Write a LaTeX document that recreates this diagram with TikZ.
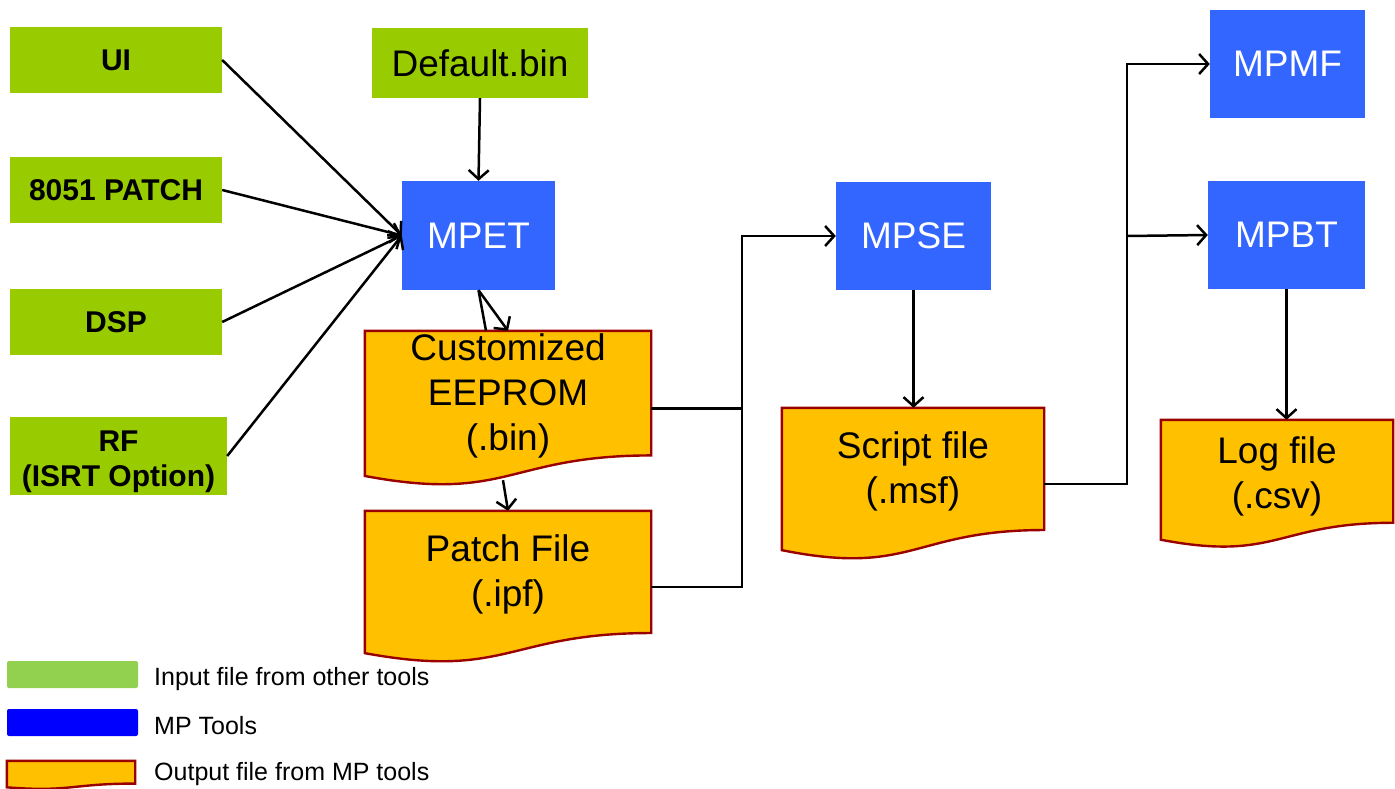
\documentclass[tikz,border=0pt]{standalone}
\usepackage{fontspec}
\setmainfont{Liberation Sans}
\usepackage{tikz}
\usetikzlibrary{arrows.meta,calc,positioning,backgrounds}
\usepackage{xcolor}
\definecolor{ingreen}{HTML}{99CC00}
\definecolor{lggreen}{HTML}{92D050}
\definecolor{toolblue}{HTML}{3366FF}
\definecolor{lgblue}{HTML}{0000FF}
\definecolor{outorange}{HTML}{FFC000}
\definecolor{outred}{HTML}{990000}

\begin{document}
\begin{tikzpicture}[x=1pt,y=-1pt,
  inbox/.style={fill=ingreen,inner sep=0pt,align=center,font=\fontsize{30}{35}\selectfont\bfseries},
  toolbox/.style={fill=toolblue,inner sep=0pt,text=white,font=\fontsize{37}{45}\selectfont},
  docfile/.style={inner sep=0pt,align=center,text depth=32pt,font=\fontsize{37}{45}\selectfont},
  docline/.style={draw=outred,fill=outorange,line width=2.4pt,line join=miter},
  lgtext/.style={anchor=west,inner sep=0pt,font=\fontsize{25}{30}\selectfont},
  arr/.style={line width=2.5pt,-{Straight Barb[length=9pt,width=20pt,line width=2.5pt]}},
  wire/.style={line width=2.5pt}]
\useasboundingbox (0,0) rectangle (1395,789);
\clip (0,0) rectangle (1395,789);

% inputs
\node[inbox,minimum width=212pt,minimum height=66pt] (ui) at (116,60) {UI};
\node[inbox,minimum width=212pt,minimum height=66pt] (p8051) at (116,190) {8051 PATCH};
\node[inbox,minimum width=212pt,minimum height=66pt] (dsp) at (116,322) {DSP};
\node[inbox,text height=67pt,minimum width=217pt,minimum height=78pt] (rf) at (118.5,456) {RF\\(ISRT Option)};
\node[inbox,font=\fontsize{37}{45}\selectfont,minimum width=216pt,minimum height=70pt] (defbin) at (480,63) {Default.bin};

% MP tools
\node[toolbox,minimum width=153pt,minimum height=109pt] (mpet) at (478.5,235.5) {MPET};
\node[toolbox,minimum width=155pt,minimum height=108pt] (mpse) at (913.5,236) {MPSE};
\node[toolbox,minimum width=155pt,minimum height=108pt] (mpmf) at (1287.5,64) {MPMF};
\node[toolbox,minimum width=157pt,minimum height=108pt] (mpbt) at (1286.5,235) {MPBT};

% output files
\node[docfile,minimum width=286pt,minimum height=155pt] (eeprom) at (508,408.5) {Customized\\EEPROM\\(.bin)};
\node[docfile,minimum width=286pt,minimum height=152pt] (patch) at (508,587) {Patch File\\(.ipf)};
\node[docfile,minimum width=262pt,minimum height=152pt] (script) at (913,484) {Script file\\(.msf)};
\node[docfile,text depth=22pt,minimum width=232pt,minimum height=128pt] (logf) at (1277,484) {Log file\\(.csv)};

% legend
\node[fill=lggreen,rounded corners=2pt,minimum width=131pt,minimum height=27pt,inner sep=0pt] (lgin) at (72.5,674.5) {};
\node[fill=lgblue,rounded corners=2pt,minimum width=131pt,minimum height=27pt,inner sep=0pt] (lgtool) at (72.5,722.5) {};
\node[minimum width=128pt,minimum height=28pt,inner sep=0pt] (lgout) at (71,775) {};
\node[lgtext] (lgintxt) at (154,679) {Input file from other tools};
\node[lgtext] (lgtooltxt) at (154,726) {MP Tools};
\node[lgtext] (lgouttxt) at (154,774) {Output file from MP tools};

\begin{scope}[on background layer]
\foreach \n in {eeprom,patch,script,logf,lgout}
  \draw[docline] (\n.north west) -- (\n.north east)
    -- ($(\n.north east)!0.802!(\n.south east)$)
    .. controls ($(\n.north)!0.802!(\n.south)$) and ($(\n.north)!1.1075!(\n.south)$)
    .. ($(\n.north west)!0.934!(\n.south west)$) -- cycle;
\end{scope}

% junctions
\coordinate (j1) at (742,236);
\coordinate (j2) at (1127,236);

% connectors
\foreach \n in {ui,p8051,dsp,rf}
  \draw[arr] (\n.east) -- (mpet.west);
\draw[arr] (defbin.south) -- (mpet.south |- mpet.north);
\draw[wire] (mpet.south) -- ([xshift=-22pt]eeprom.north);
\draw[arr] (mpet.south) -- (eeprom.north);
\draw[arr] ([xshift=-5pt,yshift=6pt]eeprom.south) -- (patch.north);
\draw[wire] (patch.east) -| (j1);
\draw[arr] (eeprom.east) -| (j1) -- (mpse.west);
\draw[arr] (mpse.south) -- (mpse.south |- script.north);
\draw[arr] (script.east) -| (j2) |- (mpmf.west);
\draw[arr] (j2) -- (mpbt.west);
\draw[arr] (mpbt.south) -- (mpbt.south |- logf.north);
\end{tikzpicture}
\end{document}
